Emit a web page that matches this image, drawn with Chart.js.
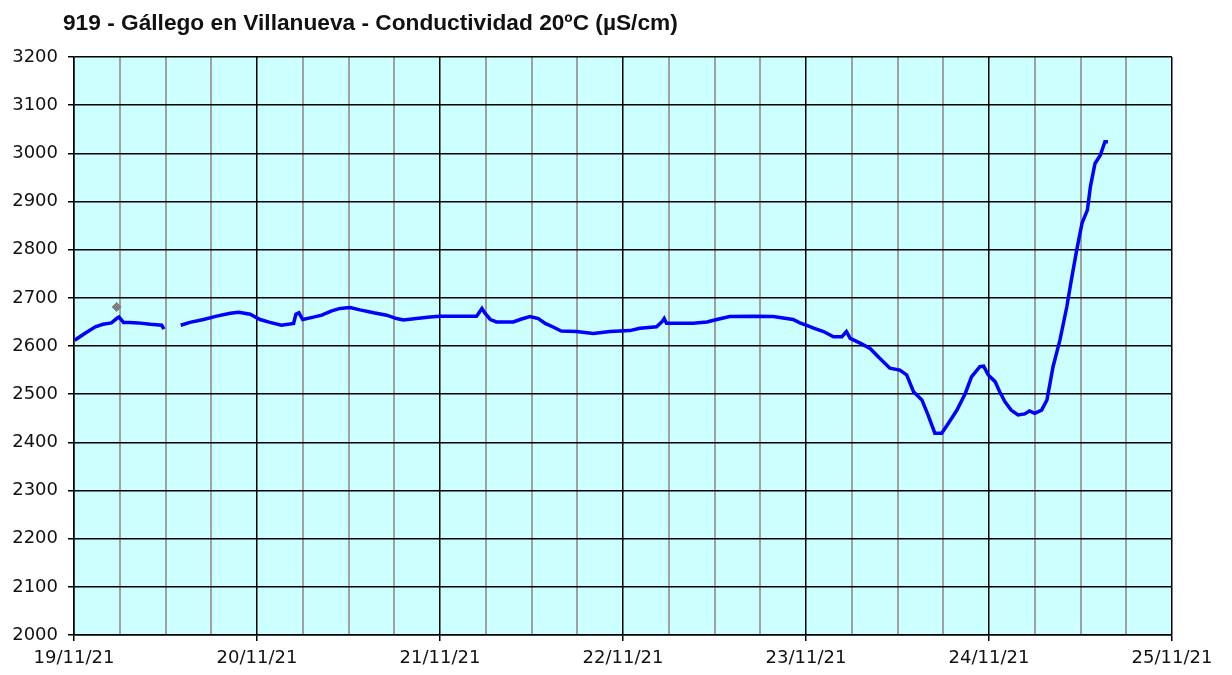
<!DOCTYPE html>
<html>
<head>
<meta charset="utf-8">
<script src="https://cdn.jsdelivr.net/npm/chart.js@4.4.0/dist/chart.umd.min.js"></script>
<style>
  html, body { margin: 0; padding: 0; background: #fff; }
  canvas { display: block; }
</style>
</head>
<body>
<canvas id="grafica" width="1232" height="675"></canvas>
<script>
// Datos: horas desde 19/11/21 00:00 y conductividad (µS/cm)
const horas = [
  0.1, 1.4, 2.8, 3.8, 4.9, 5.6, 5.9, 6.5, 7.3, 8.4, 10.0, 11.5, 11.8,
  12.9,
  14.0, 15.2, 17.0, 18.7, 20.5, 21.6, 23.1, 24.4, 25.7, 27.2, 28.8, 29.1, 29.5, 30.0,
  31.4, 32.5, 33.8, 34.9, 36.2, 37.5, 39.3, 41.0, 42.3, 43.2, 44.9, 46.7, 48.0, 50.6,
  52.8, 53.5, 53.9, 54.6, 55.4, 57.6, 58.7, 59.8, 60.9, 61.8, 62.9, 63.9, 65.9, 68.1,
  70.3, 72.9, 74.2, 76.4, 77.1, 77.4, 77.7, 81.2, 83.0, 84.3, 86.0, 89.1, 91.7, 94.3,
  95.2, 96.1, 97.0, 98.3, 99.6, 100.7, 101.3, 101.8, 103.1, 104.4, 105.7, 107.0, 108.3,
  109.2, 110.1, 111.2, 112.0, 112.9, 113.8, 114.7, 115.8, 116.9, 117.7, 118.8, 119.3,
  119.9, 120.8, 121.4, 122.1, 122.9, 123.8, 124.7, 125.3, 126.0, 126.9, 127.6, 128.4,
  129.3, 130.2, 130.8, 131.5, 132.2, 132.9, 133.3, 133.9, 134.6, 135.2, 135.6
];
const conductividad = [
  2612, 2626, 2640, 2645, 2648, 2657, 2660, 2649, 2649, 2648, 2645, 2643, 2635,
  null,
  2643, 2649, 2655, 2662, 2668, 2670, 2666, 2655, 2649, 2643, 2647, 2666, 2669, 2655,
  2660, 2664, 2673, 2678, 2680, 2675, 2669, 2664, 2657, 2654, 2657, 2660, 2662, 2662,
  2662, 2678, 2668, 2655, 2650, 2650, 2656, 2661, 2657, 2647, 2639, 2631, 2630, 2626,
  2630, 2632, 2637, 2640, 2650, 2657, 2647, 2647, 2650, 2655, 2661, 2662, 2661, 2655,
  2648, 2643, 2637, 2630, 2619, 2619, 2630, 2616, 2606, 2595, 2574, 2554, 2550,
  2540, 2505, 2488, 2457, 2419, 2419, 2440, 2467, 2502, 2536, 2557, 2558,
  2540, 2526, 2505, 2484, 2467, 2457, 2459, 2465, 2460, 2467, 2488, 2557,
  2612, 2681, 2737, 2799, 2855, 2882, 2931, 2979, 2996, 3024, 3024
];
// punto gris aislado
const horasGris = [5.6];
const valoresGris = [2681];

const fechas = ['19/11/21', '20/11/21', '21/11/21', '22/11/21', '23/11/21', '24/11/21', '25/11/21'];
const titulo = '919 - Gállego en Villanueva - Conductividad 20ºC (µS/cm)';

const puntos = horas.map((h, i) => ({ x: h, y: conductividad[i] }));
const puntosGris = horasGris.map((h, i) => ({ x: h, y: valoresGris[i] }));

// fondo celeste del área de trazado y título
const fondo = {
  id: 'fondo',
  beforeDraw(chart) {
    const { ctx, chartArea: a } = chart;
    ctx.save();
    ctx.fillStyle = '#ccffff';
    ctx.fillRect(a.left, a.top, a.right - a.left, a.bottom - a.top);
    ctx.restore();
  },
  afterDraw(chart) {
    const ctx = chart.ctx;
    ctx.save();
    ctx.font = 'bold 22.7px "Liberation Sans", Arial, sans-serif';
    ctx.fillStyle = '#111';
    ctx.textBaseline = 'alphabetic';
    ctx.fillText(titulo, 63, 30);
    ctx.restore();
  }
};

const ctx = document.getElementById('grafica').getContext('2d');
new Chart(ctx, {
  type: 'line',
  data: {
    datasets: [
      {
        data: puntos,
        borderColor: '#0000ff',
        borderWidth: 3.5,
        pointRadius: 0,
        fill: false,
        spanGaps: false,
        tension: 0
      },
      {
        data: puntosGris,
        showLine: false,
        pointStyle: 'rectRot',
        pointRadius: 4.5,
        pointBackgroundColor: '#808080',
        pointBorderColor: '#808080'
      }
    ]
  },
  plugins: [fondo],
  options: {
    responsive: false,
    animation: false,
    devicePixelRatio: 1,
    layout: { padding: { top: 57, right: 60, left: 0, bottom: 0 } },
    plugins: {
      legend: { display: false },
      tooltip: { enabled: false }
    },
    scales: {
      x: {
        type: 'linear',
        min: 0,
        max: 144,
        afterFit(scale) { scale.height = 40; },
        ticks: {
          stepSize: 6,
          autoSkip: false,
          maxRotation: 0,
          padding: 7,
          color: '#111',
          font: { family: '"DejaVu Sans", Verdana, sans-serif', size: 18 },
          callback: v => (v % 24 === 0 ? fechas[v / 24] : '')
        },
        grid: {
          color: c => (c.tick && c.tick.value % 24 === 0 ? '#000' : '#a0a0a0'),
          lineWidth: c => (c.tick && c.tick.value % 24 === 0 ? 1.5 : 2),
          tickColor: c => (c.tick && c.tick.value % 24 === 0 ? '#000' : 'rgba(0,0,0,0)'),
          tickLength: 6
        },
        border: { color: '#000', width: 1.5 }
      },
      y: {
        min: 2000,
        max: 3200,
        afterFit(scale) { scale.width = 74; },
        ticks: {
          stepSize: 100,
          padding: 10,
          color: '#111',
          font: { family: '"DejaVu Sans", Verdana, sans-serif', size: 18 },
          callback: v => String(v)
        },
        grid: {
          color: '#000',
          lineWidth: 1.5,
          tickColor: '#000',
          tickLength: 6
        },
        border: { color: '#000', width: 1.5 }
      }
    }
  }
});
</script>
</body>
</html>
